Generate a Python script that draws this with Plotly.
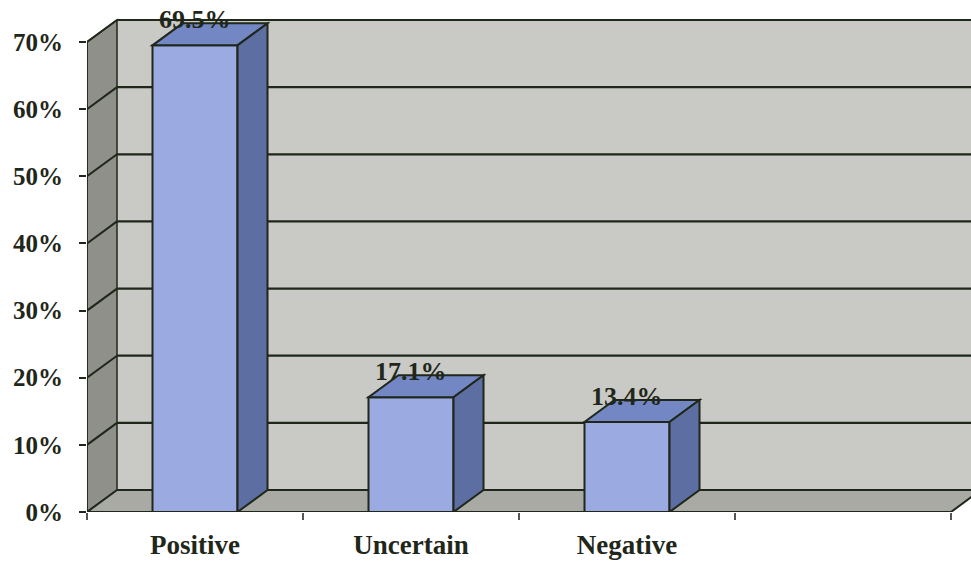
import plotly.graph_objects as go

# Survey result shares (percent)
categories = ["Positive", "Uncertain", "Negative", ""]
values = [69.5, 17.1, 13.4]
grid_values = [0, 10, 20, 30, 40, 50, 60, 70]
tick_text = ["0%", "10%", "20%", "30%", "40%", "50%", "60%", "70%"]

W, H = 971, 565
ML, MB = 87, 53
PX_PER_CAT = 216.0
PX_PER_PCT = 470.0 / 70.0

# pseudo-3D depth offset expressed in data units
DX = 30.0 / PX_PER_CAT
DY = 22.0 / PX_PER_PCT
BAR_W = 85.0 / PX_PER_CAT

x_lo = -0.5
x_hi = len(categories) - 0.5
x_range = [x_lo, x_lo + (W - ML) / PX_PER_CAT]
y_range = [0, (H - MB) / PX_PER_PCT]
y_top = grid_values[-1]

INK = "#1f271a"
FONT = "Liberation Serif"


def poly(pts):
    return "M " + " L ".join(f"{x},{y}" for x, y in pts) + " Z"


shapes = []
# back wall
shapes.append(dict(type="path", layer="below", xref="x", yref="y",
                   path=poly([(x_lo + DX, DY), (x_hi + DX, DY),
                              (x_hi + DX, y_top + DY), (x_lo + DX, y_top + DY)]),
                   fillcolor="#c9c9c5", line=dict(width=0)))
# side wall
shapes.append(dict(type="path", layer="below", xref="x", yref="y",
                   path=poly([(x_lo, 0), (x_lo + DX, DY),
                              (x_lo + DX, y_top + DY), (x_lo, y_top)]),
                   fillcolor="#8f908a", line=dict(color=INK, width=1.5)))
# floor
shapes.append(dict(type="path", layer="below", xref="x", yref="y",
                   path=poly([(x_lo, 0), (x_hi, 0), (x_hi + DX, DY), (x_lo + DX, DY)]),
                   fillcolor="#a9aaa4", line=dict(width=0)))
# wall gridlines
for g in grid_values:
    shapes.append(dict(type="line", layer="below", xref="x", yref="y",
                       x0=x_lo, y0=g, x1=x_lo + DX, y1=g + DY,
                       line=dict(color=INK, width=2)))
    shapes.append(dict(type="line", layer="below", xref="x", yref="y",
                       x0=x_lo + DX, y0=g + DY, x1=x_hi + DX, y1=g + DY,
                       line=dict(color=INK, width=2.2)))
# front edges of the floor and value axis
shapes.append(dict(type="line", layer="below", xref="x", yref="y",
                   x0=x_lo, y0=0, x1=x_hi, y1=0, line=dict(color=INK, width=2.2)))
shapes.append(dict(type="line", layer="below", xref="x", yref="y",
                   x0=x_hi, y0=0, x1=x_hi + DX, y1=DY, line=dict(color=INK, width=2)))
shapes.append(dict(type="line", layer="below", xref="x", yref="y",
                   x0=x_lo, y0=0, x1=x_lo, y1=y_top, line=dict(color=INK, width=1.5)))

# top and side faces of each bar
for i, v in enumerate(values):
    l, r = i - BAR_W / 2, i + BAR_W / 2
    shapes.append(dict(type="path", layer="above", xref="x", yref="y",
                       path=poly([(l, v), (r, v), (r + DX, v + DY), (l + DX, v + DY)]),
                       fillcolor="#7387c4", line=dict(color=INK, width=2)))
    shapes.append(dict(type="path", layer="above", xref="x", yref="y",
                       path=poly([(r, 0), (r + DX, DY), (r + DX, v + DY), (r, v)]),
                       fillcolor="#5d6ea3", line=dict(color=INK, width=2)))

fig = go.Figure()
fig.add_trace(go.Bar(
    x=list(range(len(values))), y=values, width=BAR_W,
    marker=dict(color="#9babe1", line=dict(color=INK, width=2)),
    hoverinfo="skip", showlegend=False,
))

annotations = [
    dict(x=i, y=v, xref="x", yref="y", text=f"{v:.1f}%", showarrow=False,
         yanchor="middle", yshift=26,
         font=dict(family=FONT, size=26, color=INK, weight="bold"))
    for i, v in enumerate(values)
]

fig.update_layout(
    width=W, height=H,
    margin=dict(l=ML, r=0, t=0, b=MB, pad=0),
    paper_bgcolor="white", plot_bgcolor="white",
    shapes=shapes, annotations=annotations,
    xaxis=dict(
        range=x_range, showgrid=False, zeroline=False, showline=False,
        tickmode="array", tickvals=list(range(len(categories))), ticktext=categories,
        ticks="", ticklabelstandoff=14,
        tickfont=dict(family=FONT, size=27, color=INK, weight="bold"),
        minor=dict(tickmode="array",
                   tickvals=[i - 0.5 for i in range(len(categories) + 1)],
                   ticks="outside", ticklen=7, tickcolor="#555", tickwidth=1.5,
                   showgrid=False),
    ),
    yaxis=dict(
        range=y_range, showgrid=False, zeroline=False, showline=False,
        tickmode="array", tickvals=grid_values, ticktext=tick_text,
        ticks="outside", ticklen=7, tickcolor=INK, tickwidth=1.5,
        ticklabelstandoff=11,
        tickfont=dict(family=FONT, size=25, color=INK, weight="bold"),
    ),
)

fig.write_html("out.html")
